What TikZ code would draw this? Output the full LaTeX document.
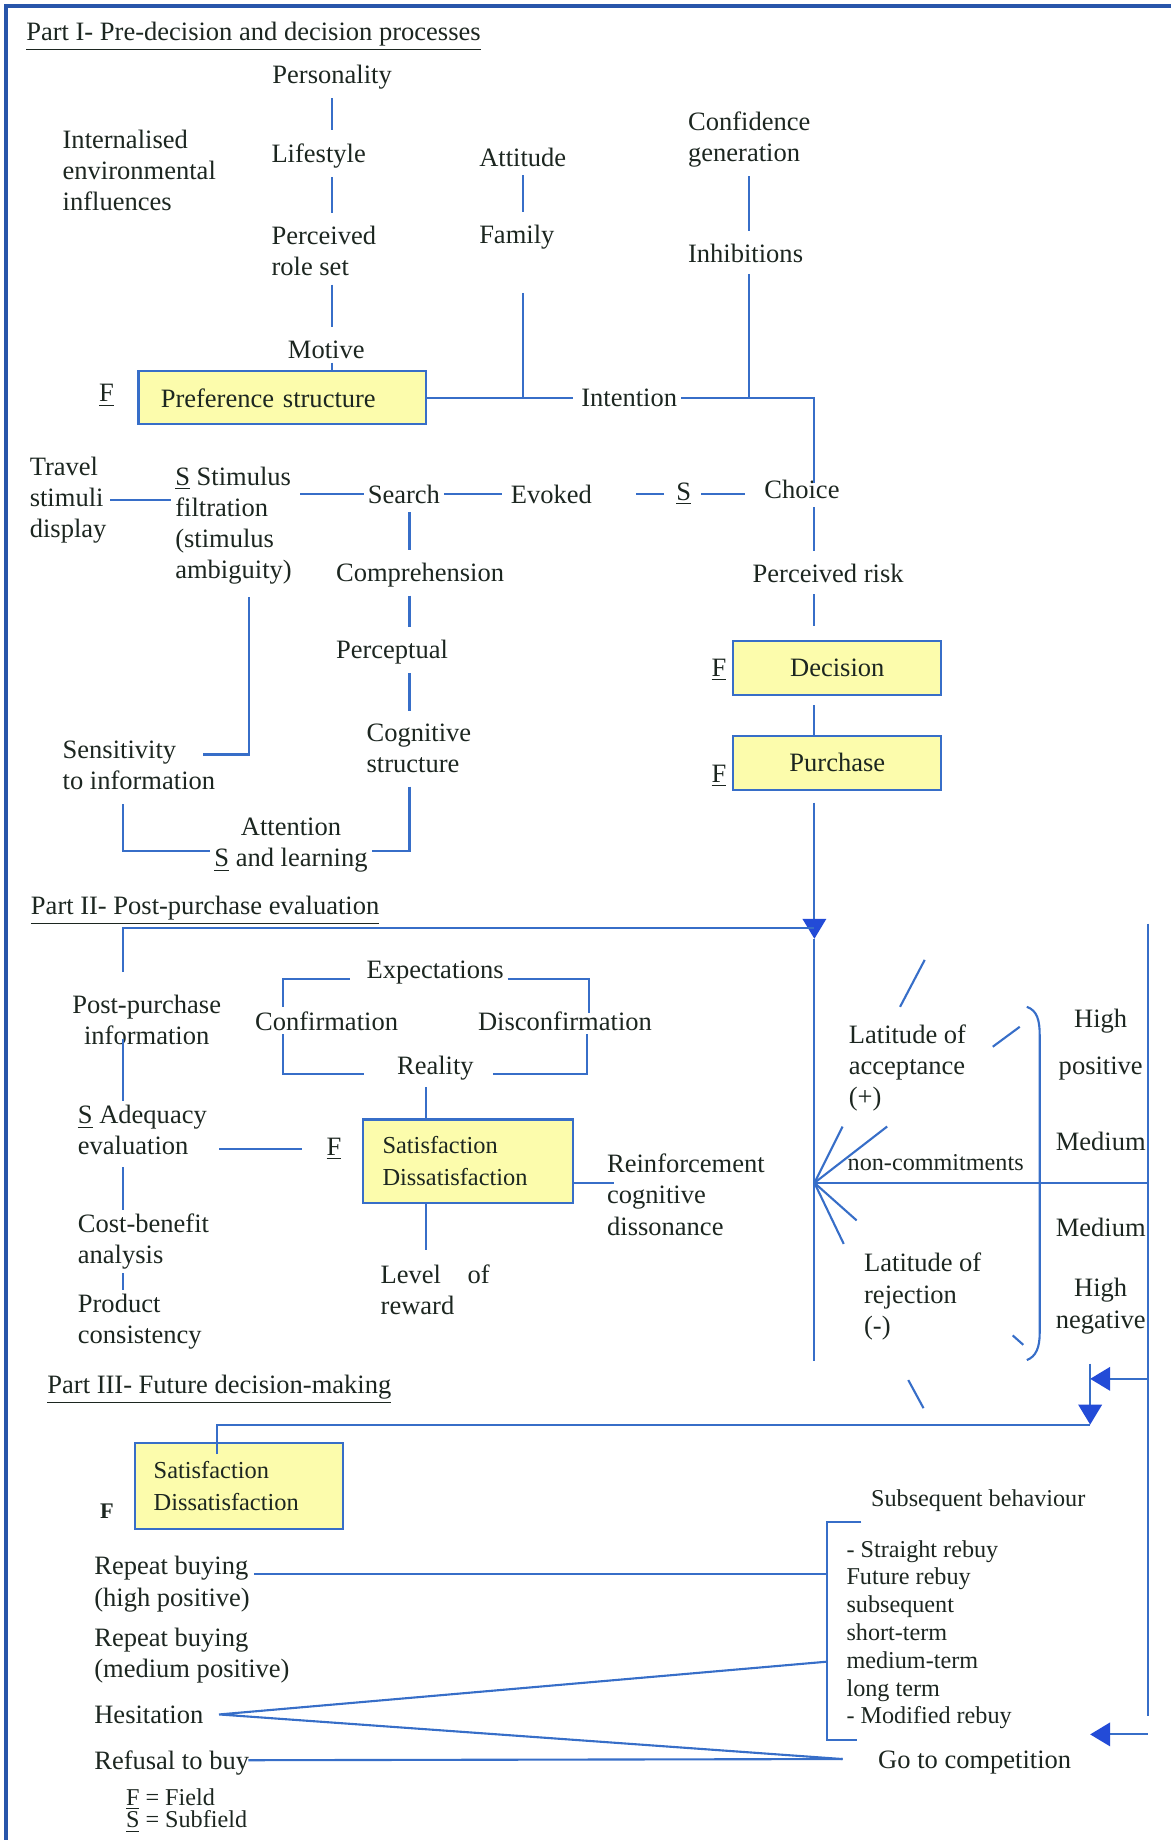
\documentclass[tikz,border=0pt]{standalone}
\usepackage{fontspec}
\setmainfont{Liberation Serif}
\usetikzlibrary{calc, positioning}
\usetikzlibrary{arrows.meta}

\newcommand{\uln}[1]{\underline{#1}}
\newcommand{\lblfont}{\fontsize{11.3}{13.3}\selectfont}
\newcommand{\boxfont}{\fontsize{10.4}{13.5}\selectfont}
\newcommand{\smallfont}{\fontsize{10.3}{11.85}\selectfont}

\begin{document}
\begin{tikzpicture}[x=0.5pt, y=-0.5pt,
  lbl/.style={font=\lblfont, text=ink, align=left, inner sep=1.5pt, anchor=west},
  mid/.style={lbl, anchor=center, align=center},
  small/.style={lbl, font=\smallfont},
  fieldbox/.style={draw=linecol, fill=boxfill, line width=0.9pt, text=ink, font=\lblfont, inner ysep=2pt},
  link/.style={draw=linecol, line width=0.9pt},
  seg/.style={link, shorten <=2pt, shorten >=4pt},
  arr/.style={link, -{Triangle[width=10pt, length=8.5pt, color=arrowcol]}},
  frameline/.style={draw=framecol, line width=1.6pt}]
\definecolor{ink}{RGB}{28,38,32}
\definecolor{linecol}{RGB}{55,110,200}
\definecolor{arrowcol}{RGB}{35,75,215}
\definecolor{framecol}{RGB}{40,85,170}
\definecolor{boxfill}{RGB}{252,252,172}

\useasboundingbox (0,0) rectangle (998,1568);
\draw[frameline] (5,1568) -- (5,5) -- (998,5);

% line columns
\coordinate (colA) at (283,0);
\coordinate (colB) at (349,0);
\coordinate (colL) at (105,0);
\coordinate (colM) at (363,0);
\coordinate (colR) at (694,0);

% Part I
\node[lbl] (part1) at (19,31) {\uln{Part I- Pre-decision and decision processes}};
\node[mid] (personality) at (283,66) {Personality};
\node[lbl] (lifestyle) at (228,133) {Lifestyle};
\node[lbl] (roleset) at (228,214) {Perceived\\role set};
\node[mid] (motive) at (278,298) {Motive};
\node[lbl] (internal) at (50,145) {Internalised\\environmental\\influences};
\node[lbl] (attitude) at (405,134) {Attitude};
\node[lbl] (family) at (405,202) {Family};
\node[lbl] (confid) at (583,119) {Confidence\\generation};
\node[lbl] (inhib) at (583,216) {Inhibitions};
\node[fieldbox, text width=103.5pt, inner xsep=9.5pt, minimum height=22.5pt, align=left]
  (pref) at (240.5,339) {Preference structure};
\node[lbl] (fpref) at (81,337) {\uln{F}};
\node[lbl] (intention) at (492,339) {Intention};

\node[lbl] (travel) at (22,426) {Travel\\stimuli\\display};
\node[lbl] (filtr) at (146,448) {\uln{S} Stimulus\\filtration\\(stimulus\\ambiguity)};
\node[lbl] (search) at (310,421) {Search};
\node[lbl] (evoked) at (432,421) {Evoked};
\node[lbl] (ssub) at (573,421) {\uln{S}};
\node[lbl] (choice) at (648,417) {Choice};
\node[lbl] (compr) at (283,490) {Comprehension};
\node[lbl] (percep) at (283,556) {Perceptual};
\node[lbl] (cogn) at (309,638) {Cognitive\\structure};
\node[mid] (attn) at (248,720) {Attention\\\uln{S} and learning};
\node[lbl] (sens) at (50,652) {Sensitivity\\to information};
\node[lbl] (risk) at (638,489) {Perceived risk};
\node[fieldbox, minimum width=88.5pt, minimum height=23pt] (decision) at (713.5,569) {Decision};
\node[lbl] (fdec) at (603,571) {\uln{F}};
\node[fieldbox, minimum width=88.5pt, minimum height=23pt] (purchase) at (713.5,650) {Purchase};
\node[lbl] (fpur) at (603,661) {\uln{F}};

\draw[seg] (personality.south -| colA) -- (lifestyle.north -| colA);
\draw[seg] (lifestyle.south -| colA) -- (roleset.north -| colA);
\draw[seg] (roleset.south -| colA) -- (motive.north -| colA);
\draw[link] (motive.south -| colA) -- (pref.north -| colA);
\draw[seg] (attitude.south) -- (family.north -| attitude.south);
\draw[link, shorten <=17pt] (family.south -| attitude.south) -- (pref.east -| attitude.south);
\draw[seg] (confid.south) -- (inhib.north -| confid.south);
\draw[link, shorten <=3pt] (inhib.south -| confid.south) -- (pref.east -| confid.south);
\draw[link, shorten >=2pt] (pref.east) -- (intention.west);
\draw[link, shorten >=-3pt] (intention.east) -- (intention.east -| colR) -- (colR |- choice.north);

\draw[link] (travel.east) -- (travel.east -| filtr.west);
\draw[link, shorten <=2pt] (search.west -| filtr.east) -- (search.west);
\draw[link, shorten >=2pt] (search.east) -- (evoked.west);
\draw[link, shorten <=3.5pt] (ssub.west) -- ++(-31,0);
\draw[link, shorten <=2.5pt, shorten >=6.5pt] (ssub.east) -- (ssub.east -| choice.west);
\draw[seg] (search.south -| colB) -- (compr.north -| colB);
\draw[seg] (compr.south -| colB) -- (percep.north -| colB);
\draw[seg] (percep.south -| colB) -- (cogn.north -| colB);
\draw[link, shorten <=4pt] (cogn.south -| colB) |- ([yshift=-2.5pt]attn.east);
\draw[link, shorten <=4.5pt] (sens.south -| colL) |- ([yshift=-2.5pt]attn.west);
\coordinate (sensJ) at (173,643);
\draw[link, shorten >=3.5pt] (sensJ) -| ([xshift=6.5pt]filtr.south);

\draw[seg] (choice.south -| colR) -- (risk.north -| colR);
\draw[link, shorten <=3pt, shorten >=6pt] (risk.south -| colR) -- (decision.north -| colR);
\draw[link, shorten <=4pt] (decision.south -| colR) -- (purchase.north -| colR);
\coordinate (arrTip) at (694,800);
\draw[arr, shorten <=5pt] (purchase.south -| colR) -- (arrTip);

% Part II
\node[lbl] (part2) at (23,776) {\uln{Part II- Post-purchase evaluation}};
\node[mid] (postinfo) at (125,869) {Post-purchase\\information};
\node[lbl] (adequacy) at (63,963) {\uln{S} Adequacy\\evaluation};
\node[lbl] (cost) at (63,1058) {Cost-benefit\\analysis};
\node[lbl] (product) at (63,1126) {Product\\consistency};
\node[lbl] (fsat) at (275,979) {\uln{F}};
\node[lbl] (expect) at (309,829) {Expectations};
\node[lbl] (confirm) at (214,870) {Confirmation};
\node[lbl] (disconf) at (404,870) {Disconfirmation};
\node[lbl] (reality) at (335,910) {Reality};
\node[fieldbox, font=\boxfont, text width=72.5pt, inner xsep=8.5pt, minimum height=35.5pt, align=left]
  (satisA) at (398.5,989.5) {Satisfaction\\Dissatisfaction};
\node[lbl] (level) at (321,1099) {Level\quad of\\reward};
\node[lbl] (reinf) at (514,1018) {Reinforcement\\cognitive\\dissonance};
\node[lbl] (accept) at (720,910) {Latitude of\\acceptance\\(+)};
\node[small] (noncommit) at (719,991) {non-commitments};
\node[lbl] (reject) at (733,1105) {Latitude of\\rejection\\(-)};
\node[mid] (highpos) at (938,890) {High\\[6.7pt]positive};
\node[mid] (medium1) at (938,973) {Medium};
\node[mid] (medium2) at (938,1046) {Medium};
\node[mid] (highneg) at (938,1113) {High\\negative};

\coordinate (ppCorner) at (105,791);
\draw[link] ([yshift=8pt]postinfo.north -| colL) -- (ppCorner) -- (ppCorner -| colR);
\coordinate (spineEnd) at (694,1160);
\draw[link] (arrTip) -- (spineEnd);
\draw[link, shorten <=-4pt] (postinfo.south -| colL) -- (adequacy.north -| colL);
\draw[link, shorten <=3.5pt] (adequacy.south -| colL) -- (cost.north -| colL);
\draw[link] (cost.south -| colL) -- (product.north -| colL);
\draw[link, shorten <=3.5pt, shorten >=9pt] (adequacy.east |- fsat.west) -- (fsat.west);

\draw[link, shorten <=5.5pt] ([yshift=-2.5pt]expect.west) -| ([xshift=13.5pt]confirm.north west);
\draw[link] ([yshift=-2.5pt]expect.east) -| ([xshift=49pt,yshift=-2.5pt]disconf.north west);
\draw[link, shorten >=12.5pt] ([xshift=13.5pt]confirm.south west) |- ([yshift=-2.5pt]reality.west);
\draw[link, shorten <=6.5pt] ([yshift=-2.5pt]reality.east) -| ([xshift=48pt]disconf.south west);
\draw[link, shorten <=1.5pt] (reality.south -| colM) -- (satisA.north -| colM);
\draw[link, shorten >=4.5pt] (satisA.south -| colM) -- (level.north -| colM);
\coordinate (reinfIn) at ([xshift=4.5pt]reinf.west);
\draw[link] ([yshift=-9.25pt]satisA.east) -- ([yshift=-9.25pt]satisA.east -| reinfIn);

% latitudes
\coordinate (fanO) at (694,1008);
\coordinate (railTop) at (978,787);
\coordinate (railBot) at (978,1462);
\draw[link] (railTop) -- (railBot);
\draw[link] (fanO) -- (fanO -| railTop);
\foreach \fx/\fy in {718/960, 756/960, 730/1040, 719/1060}
  \draw[link] (fanO) -- (\fx,\fy);
\foreach \ax/\ay/\bx/\by in {767/858/788/818, 846/892/869/875, 863/1138/872/1146, 774/1176/787/1200}
  \draw[link] (\ax,\ay) -- (\bx,\by);
\draw[link] (875,858) .. controls (884,861) and (886,870) .. (886,882)
  -- (886,1136) .. controls (886,1148) and (883,1156) .. (875,1159);

\coordinate (arrA) at (929,1175);
\draw[arr] (railTop |- arrA) -- (arrA);
\coordinate (dropTop) at (929,1162);
\coordinate (dropTip) at (929,1214);
\draw[arr] (dropTop) -- (dropTip);
\coordinate (arrB) at (929,1478);
\draw[arr] (railTop |- arrB) -- (arrB);

% Part III
\node[lbl] (part3) at (37,1184) {\uln{Part III- Future decision-making}};
\node[fieldbox, font=\boxfont, text width=72.5pt, inner xsep=8pt, minimum height=36.5pt, align=left]
  (satisB) at (203.5,1266.5) {Satisfaction\\Dissatisfaction};
\node[lbl, font=\fontsize{9.5}{11}\selectfont\bfseries] (fbold) at (82,1288) {F};
\node[lbl] (repeat1) at (77,1350) {Repeat buying\\(high positive)};
\node[lbl] (repeat2) at (77,1411) {Repeat buying\\(medium positive)};
\node[lbl] (hesit) at (77,1461) {Hesitation};
\node[lbl] (refusal) at (77,1502) {Refusal to buy};
\node[lbl] (compet) at (745,1502) {Go to competition};
\node[small] (subseq) at (739,1279) {Subsequent behaviour};
\node[small] (rebuy) at (718,1393) {- Straight rebuy\\Future rebuy\\subsequent\\short-term\\medium-term\\long term\\- Modified rebuy};
\node[lbl, font=\fontsize{10.3}{9.5}\selectfont] (legend) at (104,1543) {\uln{F} = Field\\\uln{S} = Subfield};

\draw[link] ([xshift=-9.25pt,yshift=-5pt]satisB.north) |- (dropTip);
\coordinate (brTop) at (705,1297);
\coordinate (brBot) at (705,1483);
\coordinate (brMid) at (705,1416);
\coordinate (compJ) at (718,1499);
\draw[link] ([xshift=14.5pt]brTop) -- (brTop) -- (brBot) -- ([xshift=12.5pt]brBot);
\draw[link] ([yshift=-9pt]repeat1.north east) coordinate (rOut) -- (rOut -| brTop);
\draw[link] (brMid) -- ([xshift=5pt]hesit.east) -- (compJ);
\draw[link] ([xshift=-2pt,yshift=1pt]refusal.east) -- (compJ);
\end{tikzpicture}
\end{document}
